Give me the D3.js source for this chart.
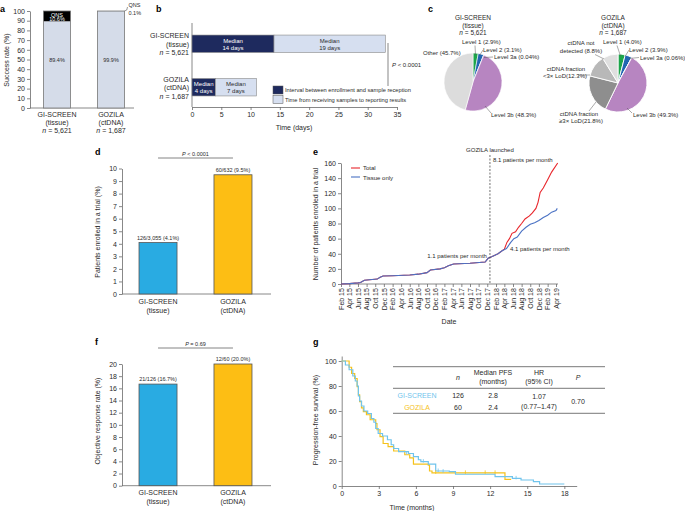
<!DOCTYPE html>
<html><head><meta charset="utf-8">
<script src="https://cdn.jsdelivr.net/npm/d3@7"></script>
<style>
body{margin:0;background:#fff;}
svg{display:block;font-family:"Liberation Sans",Arial,Helvetica,sans-serif;}
</style></head><body>
<svg id="chart" width="685" height="511"></svg>
<script>
// ---------------- DATA ----------------
const studies = ["GI-SCREEN", "GOZILA"];
const sampleTypes = ["(tissue)", "(ctDNA)"];
const sampleSizes = ["5,621", "1,687"];
// a: success rate
const successRate = [89.4, 99.9];
const qnsRate = [10.6, 0.1];
const successTicks = [0,10,20,30,40,50,60,70,80,90,100];
// b: turnaround
const enrollToReception = [14, 4];
const receptionToReport = [19, 7];
const dayTicks = [0,5,10,15,20,25,30,35];
// c: pies
const pieTissueLabels = ["Level 1 (2.9%)","Level 2 (3.1%)","Level 3a (0.04%)","Level 3b (48.3%)","Other (45.7%)"];
const pieTissueValues = [2.9, 3.1, 0.04, 48.3, 45.7];
const pieCtdnaLabels = ["Level 1 (4.0%)","Level 2 (3.9%)","Level 3a (0.06%)","Level 3b (49.3%)","ctDNA fraction ≥3× LoD(21.8%)","ctDNA fraction <3× LoD(12.3%)","ctDNA not detected (8.8%)"];
const pieCtdnaValues = [4.0, 3.9, 0.06, 49.3, 21.8, 12.3, 8.8];
// d: enrolled in trial
const enrolledText = ["126/3,055 (4.1%)", "60/632 (9.5%)"];
const enrolledPct = [4.1, 9.5];
// e: cumulative enrollment
const tissueDates = ["2015-02-01","2015-04-01","2015-06-01","2015-06-19","2015-07-16","2015-10-16","2015-11-01","2015-11-25","2016-02-01","2016-06-01","2016-08-01","2016-10-01","2016-10-25","2017-01-01","2017-02-01","2017-03-01","2017-04-07","2017-08-01","2017-11-16","2017-12-07","2018-01-01","2018-02-15","2018-03-16","2018-04-16","2018-05-16","2018-06-07","2018-07-01","2018-08-01","2018-09-01","2018-10-01","2018-11-01","2018-12-01","2019-01-01","2019-02-01","2019-03-01","2019-04-01","2019-04-10"];
const tissueCounts = [0,0.5,1.5,2,5,6.5,8.5,10.5,11,12,13,15,18.5,20,21.5,24,26.5,27.5,29,34,36,40,44,47,55,60,62,70,75,79,81,84,88,91,95,97,100];
const totalDates = ["2015-02-01","2015-04-01","2015-06-01","2015-06-19","2015-07-16","2015-10-16","2015-11-01","2015-11-25","2016-02-01","2016-06-01","2016-08-01","2016-10-01","2016-10-25","2017-01-01","2017-02-01","2017-03-01","2017-04-07","2017-08-01","2017-11-16","2017-12-07","2018-01-01","2018-02-15","2018-03-16","2018-04-01","2018-04-19","2018-05-07","2018-05-25","2018-06-19","2018-07-10","2018-08-01","2018-08-25","2018-09-25","2018-10-16","2018-11-10","2018-11-25","2018-12-10","2019-01-01","2019-02-01","2019-03-01","2019-04-13"];
const totalCounts = [0,0.5,1.5,2,5,6.5,8.5,10.5,11,12,13,15,18.5,20,21.5,24,26.5,27.5,29,34,36,40,44,46,55,60,67,69,75,80,86,90,94,100,108,121,127,138,148,160];
const launchDate = "2017-12-20";
const enrollTicks = [0,20,40,60,80,100,120,140,160];
// f: objective response
const responseText = ["21/126 (16.7%)", "12/60 (20.0%)"];
const responsePct = [16.7, 20.0];
const responseTicks = [0,2,4,6,8,10,12,14,16,18,20];
// g: PFS Kaplan-Meier
const pfsTimeGI = [0,0.3,0.6,0.9,1.1,1.25,1.35,1.45,1.6,1.8,2.1,2.4,2.6,2.75,2.95,3.3,3.7,4.0,4.2,4.6,5.4,5.8,6.2,6.4,7.0,7.6,8.7,9.2,12.4,13.8,14.5,15.5,16.0,18.0];
const pfsSurvGI = [100,96.8,93,88,84,80,72,68,64,60,58,54,51,46,42,40,37,33,30,27.5,26,23.5,21,19.5,17.5,12,11.5,9.4,7.5,6.1,4.8,3.5,1.6,1.6];
const pfsTimeGO = [0,0.6,0.8,1.05,1.25,1.35,1.45,1.6,1.75,2.0,2.3,2.75,2.85,3.1,3.35,3.75,4.2,5.1,5.5,5.8,7.0,7.1,7.3,13.2,13.7];
const pfsSurvGO = [100,95,90,86,79.5,73,67.5,62.5,59.5,57,53,50,45,39.5,34,31.5,28,25,22.5,17.5,16.7,12,10.5,5.3,5.3];
const censorGI = [[5.25,26],[6.6,19.5],[7.8,12],[8.2,11.5],[14.1,6.1]];
const censorGO = [[7.6,10.5],[10.0,10.5],[11.6,10.5],[12.4,10.5]];
const monthTicks = [0,3,6,9,12,15,18];
const pfsTicks = [0,20,40,60,80,100];
const tableHeader = ["n","Median PFS|(months)","HR|(95% CI)","P"];
const tableN = ["126","60"];
const tableMedian = ["2.8","2.4"];
const tableHR = "1.07|(0.77–1.47)";
const tableP = "0.70";

// ---------------- STYLE ----------------
const AX = "#6a6a6a", TXT = "#2a2a2a";
const studyColors = ["#29ABE2", "#FDBE14"];
const kmColors = ["#70C4EC", "#F5C21B"];
const svg = d3.select("#chart");
svg.append("rect").attr("width",685).attr("height",511).attr("fill","#fff");

function styleAxis(g, fs){
  g.selectAll("path,line").attr("stroke",AX).attr("stroke-width",0.8);
  g.selectAll("text").attr("font-size",fs||7).attr("fill",TXT).attr("font-family",'"Liberation Sans",Arial,sans-serif');
}
function txt(x,y,s,opt){
  opt = opt||{};
  const t = svg.append("text").attr("x",x).attr("y",y).attr("font-size",opt.fs||7)
    .attr("fill",opt.fill||TXT).attr("text-anchor",opt.anchor||"start").text(s);
  if(opt.bold) t.attr("font-weight","bold");
  if(opt.italic) t.attr("font-style","italic");
  if(opt.rot) t.attr("transform",`rotate(-90,${x},${y})`);
  return t;
}
function nText(x,y,num,opt){
  opt=opt||{};
  const t = svg.append("text").attr("x",x).attr("y",y).attr("font-size",opt.fs||7).attr("fill",TXT).attr("text-anchor",opt.anchor||"middle");
  t.append("tspan").attr("font-style","italic").text("n");
  t.append("tspan").text(" = "+num);
}
function pText(x,y,rest,opt){
  opt=opt||{};
  const t = svg.append("text").attr("x",x).attr("y",y).attr("font-size",opt.fs||6).attr("fill",TXT).attr("text-anchor",opt.anchor||"start");
  t.append("tspan").attr("font-style","italic").text("P");
  t.append("tspan").text(rest);
}
// panel letters
[["a",0,12],["b",156,12],["c",428,12],["d",95,155],["e",313,155],["f",95,345],["g",313,345]]
  .forEach(([l,x,y])=>txt(x,y,l,{fs:9,bold:true,fill:"#000"}));

// ---------------- PANEL A ----------------
{
  const y = d3.scaleLinear().domain([0,100]).range([108,11]);
  const x = d3.scaleBand().domain(studies).range([30,138]).paddingInner(0.5).paddingOuter(0.25);
  const ga = svg.append("g").attr("transform","translate(30,0)")
    .call(d3.axisLeft(y).tickValues(successTicks).tickSize(3).tickSizeOuter(0).tickPadding(2));
  styleAxis(ga);
  svg.append("line").attr("x1",30).attr("x2",134).attr("y1",108).attr("y2",108).attr("stroke",AX).attr("stroke-width",0.8);
  studies.forEach((s,i)=>{
    const x0 = x(s), w = x.bandwidth();
    svg.append("rect").attr("x",x0).attr("y",y(successRate[i])).attr("width",w).attr("height",y(0)-y(successRate[i])).attr("fill","#D5DCE9");
    svg.append("rect").attr("x",x0).attr("y",y(successRate[i]+qnsRate[i])).attr("width",w).attr("height",y(successRate[i])-y(successRate[i]+qnsRate[i])).attr("fill","#000");
    svg.append("rect").attr("x",x0).attr("y",y(successRate[i]+qnsRate[i])).attr("width",w).attr("height",y(0)-y(successRate[i]+qnsRate[i])).attr("fill","none").attr("stroke","#777").attr("stroke-width",0.8);
    txt(x0+w/2, y(50)+2, successRate[i].toFixed(1)+"%", {fs:5.5, anchor:"middle"});
    const cx = x0+w/2;
    txt(cx, 117, s, {anchor:"middle"});
    txt(cx, 125, sampleTypes[i], {anchor:"middle"});
    nText(cx, 133, sampleSizes[i]);
  });
  const c0 = x(studies[0])+x.bandwidth()/2;
  txt(c0, 16.5, "QNS", {fs:5.5, anchor:"middle", fill:"#fff"});
  txt(c0, 21.3, qnsRate[0].toFixed(1)+"%", {fs:5.5, anchor:"middle", fill:"#fff"});
  const xr = x(studies[1])+x.bandwidth();
  svg.append("path").attr("d",`M${xr},${y(100)} Q${xr+3},${y(100)} ${xr+3},${y(100)-4}`).attr("fill","none").attr("stroke","#555").attr("stroke-width",0.6);
  txt(xr+4, 7, "QNS", {fs:5.5});
  txt(xr+4, 15, qnsRate[1].toFixed(1)+"%", {fs:5.5});
  txt(9, 60, "Success rate (%)", {rot:true, anchor:"middle"});
}

// ---------------- PANEL B ----------------
{
  const x = d3.scaleLinear().domain([0,35]).range([192,397]);
  const y = d3.scaleBand().domain(studies).range([22,109]).paddingInner(0.6).paddingOuter(0.3);
  const gb = svg.append("g").attr("transform","translate(0,107)")
    .call(d3.axisBottom(x).tickValues(dayTicks).tickSize(3).tickSizeOuter(0).tickPadding(2));
  styleAxis(gb);
  svg.append("line").attr("x1",192).attr("x2",192).attr("y1",23).attr("y2",107).attr("stroke",AX).attr("stroke-width",0.8);
  studies.forEach((s,i)=>{
    const y0 = y(s), h = y.bandwidth();
    const a = enrollToReception[i], b = receptionToReport[i];
    svg.append("rect").attr("x",x(0)).attr("y",y0).attr("width",x(a)-x(0)).attr("height",h).attr("fill","#1E2A5E").attr("stroke","#888").attr("stroke-width",0.6);
    svg.append("rect").attr("x",x(a)).attr("y",y0).attr("width",x(a+b)-x(a)).attr("height",h).attr("fill","#D6DFF0").attr("stroke","#888").attr("stroke-width",0.6);
    txt((x(0)+x(a))/2, y0+h/2-1, "Median", {fs:6, anchor:"middle", fill:"#fff"});
    txt((x(0)+x(a))/2, y0+h/2+6, a+" days", {fs:6, anchor:"middle", fill:"#fff"});
    txt((x(a)+x(a+b))/2, y0+h/2-1, "Median", {fs:6, anchor:"middle"});
    txt((x(a)+x(a+b))/2, y0+h/2+6, b+" days", {fs:6, anchor:"middle"});
    txt(189, y0+3, s, {anchor:"end"});
    txt(189, y0+11.5, sampleTypes[i], {anchor:"end"});
    nText(189, y0+20, sampleSizes[i], {anchor:"end"});
  });
  txt(294, 130, "Time (days)", {anchor:"middle"});
  // legend
  svg.append("rect").attr("x",273).attr("y",86).attr("width",10).attr("height",8).attr("fill","#1E2A5E").attr("stroke","#555").attr("stroke-width",0.5);
  svg.append("rect").attr("x",273).attr("y",95.5).attr("width",10).attr("height",8).attr("fill","#D6DFF0").attr("stroke","#555").attr("stroke-width",0.5);
  txt(285, 92.3, "Interval between enrollment and sample reception", {fs:5.7});
  txt(285, 101.8, "Time from receiving samples to reporting results", {fs:5.7});
  svg.append("line").attr("x1",388).attr("x2",388).attr("y1",43).attr("y2",86).attr("stroke","#555").attr("stroke-width",0.7);
  pText(392, 67, " < 0.0001", {fs:6});
}

// ---------------- PANEL C ----------------
{
  const pie = d3.pie().sort(null).value(d=>d);
  const arc = d3.arc().innerRadius(0).outerRadius(29);
  const colT = ["#1DA54A","#2266B1","#4B3A8A","#B785C1","#DCDCDC"];
  const colC = ["#1DA54A","#2266B1","#4B3A8A","#B785C1","#8E8E8E","#B8B8B8","#DFDFDF"];
  const g1 = svg.append("g").attr("transform","translate(473,82)");
  g1.selectAll("path").data(pie(pieTissueValues)).join("path").attr("d",arc)
    .attr("fill",(d,i)=>colT[i]).attr("stroke","#fff").attr("stroke-width",0.6);
  const g2 = svg.append("g").attr("transform","translate(618,83)");
  g2.selectAll("path").data(pie(pieCtdnaValues)).join("path").attr("d",arc)
    .attr("fill",(d,i)=>colC[i]).attr("stroke","#fff").attr("stroke-width",0.9);
  // titles
  txt(473,19.5,studies[0],{fs:6.5,anchor:"middle"});
  txt(473,27.5,sampleTypes[0],{fs:6.5,anchor:"middle"});
  nText(473,35,sampleSizes[0],{fs:6.5});
  txt(613,19.5,studies[1],{fs:6.5,anchor:"middle"});
  txt(613,27.5,sampleTypes[1],{fs:6.5,anchor:"middle"});
  nText(613,35,sampleSizes[1],{fs:6.5});
  const L = (x1,y1,x2,y2)=>svg.append("line").attr("x1",x1).attr("y1",y1).attr("x2",x2).attr("y2",y2).attr("stroke","#555").attr("stroke-width",0.5);
  const fs = 6;
  // tissue pie labels
  txt(462,44,pieTissueLabels[0],{fs}); L(475,45.5,475.5,55);
  txt(483,51.5,pieTissueLabels[1],{fs}); L(483,50,479.5,55.5);
  txt(494,59,pieTissueLabels[2],{fs}); L(493,57,484,57.5);
  txt(423,54.5,pieTissueLabels[4],{fs});
  txt(491,117,pieTissueLabels[3],{fs}); L(491,113,485,106);
  // ctDNA pie labels
  txt(603,44,pieCtdnaLabels[0],{fs}); L(617,45.5,620.5,56);
  txt(629,51.5,pieCtdnaLabels[1],{fs}); L(629,50,625,56.5);
  txt(640,59.5,pieCtdnaLabels[2],{fs}); L(639,57.5,629,58.5);
  txt(581,45,"ctDNA not",{fs,anchor:"middle"});
  txt(581,53,"detected (8.8%)",{fs,anchor:"middle"}); L(595,54.5,604,59);
  txt(566,70.5,"ctDNA fraction",{fs,anchor:"middle"});
  txt(565,78,"<3× LoD(12.3%)",{fs,anchor:"middle"}); L(578,75,590,75);
  txt(579,115.5,"ctDNA fraction",{fs,anchor:"middle"});
  txt(581,122.5,"≥3× LoD(21.8%)",{fs,anchor:"middle"}); L(589,111,596,102);
  txt(633,117,pieCtdnaLabels[3],{fs}); L(632,113,627,108);
}

// ---------------- PANEL D & F (bar charts) ----------------
function barPanel(vals, labels, domainMax, ticks, y0, y1, yLabel, labelY, pY, pStr, catY){
  const y = d3.scaleLinear().domain([0,domainMax]).range([y0,y1]);
  const x = d3.scaleBand().domain(studies).range([122,269]).paddingInner(0.493).paddingOuter(0.227);
  const g = svg.append("g").attr("transform","translate(122,0)")
    .call(d3.axisLeft(y).tickValues(ticks).tickSize(3).tickSizeOuter(0).tickPadding(2));
  styleAxis(g);
  svg.append("line").attr("x1",122).attr("x2",271).attr("y1",y0).attr("y2",y0).attr("stroke",AX).attr("stroke-width",0.8);
  studies.forEach((s,i)=>{
    svg.append("rect").attr("x",x(s)).attr("y",y(vals[i])).attr("width",x.bandwidth()).attr("height",y(0)-y(vals[i]))
      .attr("fill",studyColors[i]).attr("stroke","#555").attr("stroke-width",0.8);
    const cx = x(s)+x.bandwidth()/2;
    txt(cx, y(vals[i])-3, labels[i], {fs:5.5, anchor:"middle"});
    txt(cx, catY, s, {anchor:"middle"});
    txt(cx, catY+9, sampleTypes[i], {anchor:"middle"});
  });
  const c0 = x(studies[0])+x.bandwidth()/2, c1 = x(studies[1])+x.bandwidth()/2;
  svg.append("line").attr("x1",c0).attr("x2",c1).attr("y1",pY).attr("y2",pY).attr("stroke","#666").attr("stroke-width",0.8);
  pText((c0+c1)/2, pY-2.5, pStr, {fs:5.5, anchor:"middle"});
  txt(100, labelY, yLabel, {rot:true, anchor:"middle"});
}
barPanel(enrolledPct, enrolledText, 10, [0,1,2,3,4,5,6,7,8,9,10], 294, 168.5, "Patients enrolled in a trial (%)", 232, 158, " < 0.0001", 304);
barPanel(responsePct, responseText, 20, responseTicks, 485.7, 364, "Objective response rate (%)", 421, 348, " = 0.69", 495);

// ---------------- PANEL E ----------------
{
  const parse = d3.timeParse("%Y-%m-%d");
  const x = d3.scaleTime().domain([parse("2015-02-01"), parse("2019-04-01")]).range([341,556]);
  const y = d3.scaleLinear().domain([0,160]).range([284,163]);
  const gy = svg.append("g").attr("transform","translate(341,0)")
    .call(d3.axisLeft(y).tickValues(enrollTicks).tickSize(3).tickSizeOuter(0).tickPadding(2));
  styleAxis(gy);
  const tv = d3.range(0,51,2).map(m=>new Date(2015,1+m,1));
  const gx = svg.append("g").attr("transform","translate(0,284)")
    .call(d3.axisBottom(x).tickValues(tv).tickFormat(d3.timeFormat("%b %y")).tickSize(3).tickSizeOuter(0).tickPadding(2));
  styleAxis(gx);
  gx.select(".domain").attr("d","M341,0H558");
  gx.selectAll("text").attr("transform","rotate(-90)").attr("text-anchor","end").attr("dx","-0.3em").attr("dy","-0.25em").attr("x",-2).attr("y",0.5).style("dominant-baseline","middle").attr("dy",null);
  const line = d3.line().x(d=>x(d[0])).y(d=>y(d[1]));
  const tot = totalDates.map((d,i)=>[parse(d), totalCounts[i]]);
  const tis = tissueDates.map((d,i)=>[parse(d), tissueCounts[i]]);
  svg.append("path").attr("d",line(tot)).attr("fill","none").attr("stroke","#E8262C").attr("stroke-width",1.1);
  svg.append("path").attr("d",line(tis)).attr("fill","none").attr("stroke","#4A72C4").attr("stroke-width",1.1);
  const lx = x(parse(launchDate));
  svg.append("line").attr("x1",lx).attr("x2",lx).attr("y1",155).attr("y2",284).attr("stroke","#333").attr("stroke-width",0.7).attr("stroke-dasharray","2,1.5");
  txt(lx, 152, "GOZILA launched", {fs:6, anchor:"middle"});
  txt(lx+3, 162, "8.1 patients per month", {fs:6});
  txt(lx-3, 258, "1.1 patients per month", {fs:6, anchor:"end"});
  txt(510, 251, "4.1 patients per month", {fs:6});
  // legend
  svg.append("line").attr("x1",351).attr("x2",360).attr("y1",168).attr("y2",168).attr("stroke","#E8262C").attr("stroke-width",1.1);
  svg.append("line").attr("x1",351).attr("x2",360).attr("y1",177).attr("y2",177).attr("stroke","#4A72C4").attr("stroke-width",1.1);
  txt(363,170,"Total",{fs:6});
  txt(363,179.5,"Tissue only",{fs:6});
  txt(449, 324, "Date", {anchor:"middle"});
  txt(318, 224, "Number of patients enrolled in a trial", {rot:true, anchor:"middle"});
}

// ---------------- PANEL G ----------------
{
  const x = d3.scaleLinear().domain([0,19]).range([341.7,576.7]);
  const y = d3.scaleLinear().domain([0,104]).range([486,356]);
  const gy = svg.append("g").attr("transform","translate(341.7,0)")
    .call(d3.axisLeft(y).tickValues(pfsTicks).tickSize(3).tickSizeOuter(0).tickPadding(2));
  styleAxis(gy);
  const gx = svg.append("g").attr("transform","translate(0,486)")
    .call(d3.axisBottom(x).tickValues(monthTicks).tickSize(3).tickSizeOuter(0).tickPadding(2));
  styleAxis(gx);
  const line = d3.line().x(d=>x(d[0])).y(d=>y(d[1])).curve(d3.curveStepAfter);
  const go = pfsTimeGO.map((t,i)=>[t,pfsSurvGO[i]]);
  const gi = pfsTimeGI.map((t,i)=>[t,pfsSurvGI[i]]);
  svg.append("path").attr("d",line(go)).attr("fill","none").attr("stroke",kmColors[1]).attr("stroke-width",1.2);
  svg.append("path").attr("d",line(gi)).attr("fill","none").attr("stroke",kmColors[0]).attr("stroke-width",1.2);
  censorGI.forEach(([t,s])=>svg.append("line").attr("x1",x(t)).attr("x2",x(t)).attr("y1",y(s)-2.5).attr("y2",y(s)+1).attr("stroke",kmColors[0]).attr("stroke-width",0.8));
  censorGO.forEach(([t,s])=>svg.append("line").attr("x1",x(t)).attr("x2",x(t)).attr("y1",y(s)-2.5).attr("y2",y(s)+1).attr("stroke",kmColors[1]).attr("stroke-width",0.8));
  txt(412, 510, "Time (months)", {anchor:"middle"});
  txt(318, 420, "Progression-free survival (%)", {rot:true, anchor:"middle"});
  // table
  [366.7, 388.3, 413.3].forEach(yy=>svg.append("line").attr("x1",393).attr("x2",605).attr("y1",yy).attr("y2",yy).attr("stroke","#555").attr("stroke-width",0.8));
  const colX = [458, 493, 539, 578];
  tableHeader.forEach((h,i)=>{
    const parts = h.split("|");
    if(parts.length===1) txt(colX[i], 379.5, parts[0], {anchor:"middle", italic:true});
    else { txt(colX[i], 375, parts[0], {anchor:"middle"}); txt(colX[i], 383.5, parts[1], {anchor:"middle"}); }
  });
  studies.forEach((s,i)=>{
    const yy = 397.5 + i*12;
    txt(417, yy, s, {anchor:"middle", fill:kmColors[i]});
    txt(colX[0], yy, tableN[i], {anchor:"middle"});
    txt(colX[1], yy, tableMedian[i], {anchor:"middle"});
  });
  const hr = tableHR.split("|");
  txt(colX[2], 399, hr[0], {anchor:"middle"});
  txt(colX[2], 408.5, hr[1], {anchor:"middle"});
  txt(colX[3], 404, tableP, {anchor:"middle"});
}
</script>
</body></html>
